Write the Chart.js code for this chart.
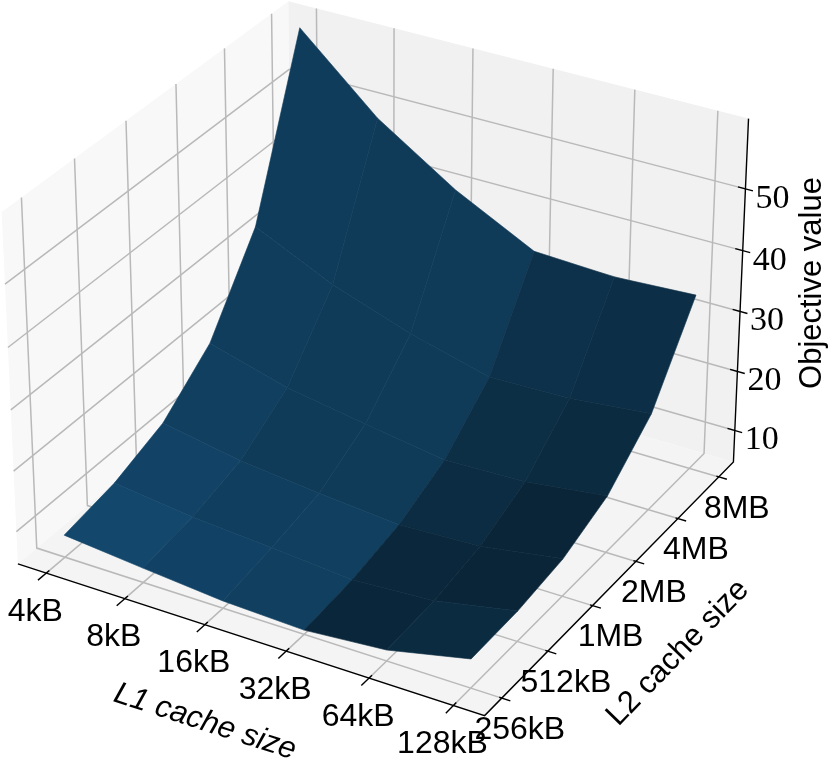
<!DOCTYPE html>
<html>
<head>
<meta charset="utf-8">
<script src="https://cdn.jsdelivr.net/npm/chart.js@4/dist/chart.umd.min.js"></script>
<style>
  html, body { margin: 0; padding: 0; background: #fff; }
  canvas { display: block; }
</style>
</head>
<body>
<canvas id="chart-surface" width="830" height="762"></canvas>
<script>
var l1Labels = ["4kB", "8kB", "16kB", "32kB", "64kB", "128kB"];
var l2Labels = ["256kB", "512kB", "1MB", "2MB", "4MB", "8MB"];
var zTicks = [10, 20, 30, 40, 50];

// objective value, one list per L1 size, going through the L2 sizes
var l1_4kB = [8.3, 9.9, 13.1, 19.9, 33.1, 60.1];
var l1_8kB = [7.0, 8.3, 10.7, 16.2, 27.0, 48.6];
var l1_16kB = [5.8, 7.3, 9.3, 14.0, 22.5, 40.2];
var l1_32kB = [5.3, 6.2, 8.1, 11.9, 19.05, 33.6];
var l1_64kB = [6.4, 7.0, 8.7, 12.3, 19.4, 33.0];
var l1_128kB = [9.35, 9.6, 10.8, 14.0, 20.7, 33.7];
var values = [l1_4kB, l1_8kB, l1_16kB, l1_32kB, l1_64kB, l1_128kB];

// axis limits of the 3d box
var xLo = -0.365, xHi = 5.365, zLo = 4.6, zHi = 61.2;

// same camera matplotlib uses by default: elev 30, azim -60, dist 10
var boxW = 1.8294640721620434 * 4 / Math.sqrt(41);
var boxH = 1.8294640721620434 * 3 / Math.sqrt(41);
var scalePx = 468, originX = 382, originY = 342;

function toBox(x, y, z) {
    return [
        ((x - xLo) / (xHi - xLo) - 0.5) * boxW,
        ((y - xLo) / (xHi - xLo) - 0.5) * boxW,
        ((z - zLo) / (zHi - zLo) - 0.5) * boxH
    ];
}

function depth(x, y, z) {
    var b = toBox(x, y, z);
    return 10 - (0.4330127 * b[0] - 0.75 * b[1] + 0.5 * b[2]);
}

function project(x, y, z) {
    var b = toBox(x, y, z);
    var d = depth(x, y, z);
    var xv = 0.8660254 * b[0] + 0.5 * b[1];
    var yv = -0.25 * b[0] + 0.4330127 * b[1] + 0.8660254 * b[2];
    return { x: originX + scalePx * 10 * xv / d, y: originY - scalePx * 10 * yv / d };
}

function polyline(points, color, width) {
    return {
        data: points, showLine: true, fill: false, pointRadius: 0, clip: false,
        borderColor: color, borderWidth: width, tension: 0, borderCapStyle: 'butt'
    };
}

function polygon(points, color, edge) {
    return {
        data: points.concat([points[0]]), showLine: true, fill: 'shape', pointRadius: 0, clip: false,
        backgroundColor: color, borderColor: color, borderWidth: edge, tension: 0
    };
}

// painted from back to front, reversed at the end since chart.js paints the last dataset first
var layers = [];

// panes
layers.push(polygon([project(xLo, xLo, zLo), project(xLo, xHi, zLo), project(xLo, xHi, zHi), project(xLo, xLo, zHi)], '#f8f8f8', 0));
layers.push(polygon([project(xLo, xHi, zLo), project(xHi, xHi, zLo), project(xHi, xHi, zHi), project(xLo, xHi, zHi)], '#f1f1f1', 0));
layers.push(polygon([project(xLo, xLo, zLo), project(xHi, xLo, zLo), project(xHi, xHi, zLo), project(xLo, xHi, zLo)], '#f4f4f4', 0));

// grid
var gridColor = '#b9b9b9', gridWidth = 1.5;
l1Labels.forEach(function (label, i) {
    layers.push(polyline([project(i, xLo, zLo), project(i, xHi, zLo), project(i, xHi, zHi)], gridColor, gridWidth));
});
l2Labels.forEach(function (label, j) {
    layers.push(polyline([project(xHi, j, zLo), project(xLo, j, zLo), project(xLo, j, zHi)], gridColor, gridWidth));
});
zTicks.forEach(function (t) {
    layers.push(polyline([project(xLo, xLo, t), project(xLo, xHi, t), project(xHi, xHi, t)], gridColor, gridWidth));
});

// axis lines and tick marks
var axisWidth = 1.4;
layers.push(polyline([project(xLo, xLo, zLo), project(xHi, xLo, zLo), project(xHi, xHi, zLo), project(xHi, xHi, zHi)], '#000', axisWidth));
l1Labels.forEach(function (label, i) {
    layers.push(polyline([project(i, xLo - 0.16, zLo), project(i, xLo + 0.06, zLo)], '#000', axisWidth));
});
l2Labels.forEach(function (label, j) {
    layers.push(polyline([project(xHi + 0.1, j, zLo), project(xHi - 0.03, j, zLo)], '#000', axisWidth));
});
zTicks.forEach(function (t) {
    layers.push(polyline([project(xHi + 0.09, xHi, t), project(xHi - 0.09, xHi, t)], '#000', axisWidth));
});

// surface quads, shaded from their normals and sorted far to near
var quads = [];
for (var i = 0; i < values.length - 1; i++) {
    for (var j = 0; j < values[i].length - 1; j++) {
        var z0 = values[i][j], z1 = values[i + 1][j], z2 = values[i + 1][j + 1], z3 = values[i][j + 1];
        var dz1 = z2 - z0, dz2 = z3 - z1;
        var nx = dz2 - dz1, ny = -dz1 - dz2, nz = 2;
        var dot = (-0.6667 * nx - 0.6667 * ny + 0.3333 * nz) / Math.sqrt(nx * nx + ny * ny + nz * nz);
        var k = 0.3 + 0.7 * (1 - dot) / 2;
        var color = 'rgb(' + Math.round(31 * k) + ',' + Math.round(119 * k) + ',' + Math.round(180 * k) + ')';
        quads.push({
            far: (depth(i, j, z0) + depth(i + 1, j, z1) + depth(i + 1, j + 1, z2) + depth(i, j + 1, z3)) / 4,
            points: [project(i, j, z0), project(i + 1, j, z1), project(i + 1, j + 1, z2), project(i, j + 1, z3)],
            color: color
        });
    }
}
quads.sort(function (a, b) { return b.far - a.far; });
quads.forEach(function (q) { layers.push(polygon(q.points, q.color, 0.6)); });

function drawText(ctx, text, x, y, font, angle) {
    ctx.save();
    ctx.translate(x, y);
    ctx.rotate(angle * Math.PI / 180);
    ctx.font = font;
    ctx.fillStyle = '#000';
    ctx.textAlign = 'center';
    ctx.textBaseline = 'middle';
    ctx.fillText(text, 0, 0);
    ctx.restore();
}

var axisText = {
    id: 'axisText',
    afterDraw: function (chart) {
        var ctx = chart.ctx;
        var labelFont = '32px "Liberation Sans"';
        l1Labels.forEach(function (label, i) {
            var p = project(i, xLo, zLo);
            drawText(ctx, label, p.x - 11, p.y + 39, labelFont, 0);
        });
        l2Labels.forEach(function (label, j) {
            var p = project(xHi, j, zLo);
            drawText(ctx, label, p.x + 18, p.y + 32, labelFont, 0);
        });
        zTicks.forEach(function (t) {
            var p = project(xHi, xHi, t);
            drawText(ctx, String(t), p.x + 27, p.y + 10, '34px "Liberation Serif"', 0);
        });
        drawText(ctx, 'L1 cache size', 205, 722, 'italic 31px "Liberation Sans"', 18);
        drawText(ctx, 'L2 cache size', 678, 653, '31px "Liberation Sans"', -46);
        drawText(ctx, 'Objective value', 812, 283, '31px "Liberation Sans"', -90);
    }
};

var ctx1 = document.getElementById("chart-surface").getContext("2d");
new Chart(ctx1, {
    type: "scatter",
    data: { datasets: layers.reverse() },
    options: {
        responsive: false,
        animation: false,
        layout: { padding: 0 },
        plugins: {
            legend: { display: false },
            tooltip: { enabled: false }
        },
        scales: {
            x: { type: 'linear', display: false, min: 0, max: 830 },
            y: { type: 'linear', display: false, min: 0, max: 762, reverse: true }
        }
    },
    plugins: [axisText]
});
</script>
</body>
</html>
